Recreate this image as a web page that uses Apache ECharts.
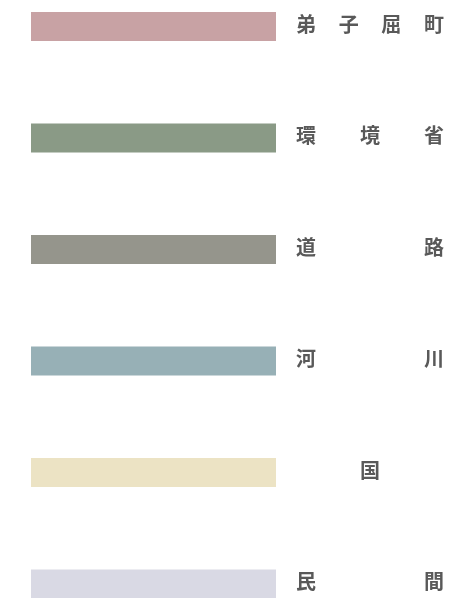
<!DOCTYPE html>
<html><head><meta charset="utf-8">
<script src="https://cdn.jsdelivr.net/npm/echarts@6/dist/echarts.min.js"></script>
<style>html,body{margin:0;padding:0;background:#fff}#c{width:455px;height:598px}</style>
</head><body><div id="c"></div>
<script>
const categories = ['弟子屈町', '環境省', '道路', '河川', '国', '民間'];
const values = [1, 1, 1, 1, 1, 1];
const colors = ['#c8a2a4', '#8a9a86', '#95958c', '#97b0b6', '#ece3c4', '#d9d9e4'];

const LABEL_W = 148, CH = 20;
function fmt(s) {
  const chars = Array.from(s);
  const n = chars.length;
  if (n === 1) return '{p1|' + chars[0] + '}';
  return chars.map((c, i) => (i === 0 ? '{c|' : '{g' + n + '|') + c + '}').join('');
}
const base = { fontSize: 20, fontWeight: 'bold', color: '#595959', fontFamily: 'Noto Sans CJK JP' };
const rich = {
  c: Object.assign({}, base),
  p1: Object.assign({}, base, { padding: [0, 0, 0, (LABEL_W - CH) / 2] })
};
[2, 3, 4].forEach(n => {
  rich['g' + n] = Object.assign({}, base, { padding: [0, 0, 0, (LABEL_W - n * CH) / (n - 1)] });
});

const chart = echarts.init(document.getElementById('c'));
chart.setOption({
  animation: false,
  grid: { left: 31, right: 179, top: 26.5, bottom: 14, containLabel: false },
  xAxis: { type: 'value', min: 0, max: 1, show: false },
  yAxis: {
    type: 'category', data: categories, inverse: true, boundaryGap: false, position: 'right',
    axisLine: { show: false }, axisTick: { show: false }, splitLine: { show: false },
    axisLabel: { margin: 20, align: 'left', padding: [0, 0, 5, 0], formatter: fmt, rich: rich }
  },
  series: [{
    type: 'bar', barWidth: 29,
    data: values.map((v, i) => ({ value: v, itemStyle: { color: colors[i] } }))
  }]
});
</script></body></html>
